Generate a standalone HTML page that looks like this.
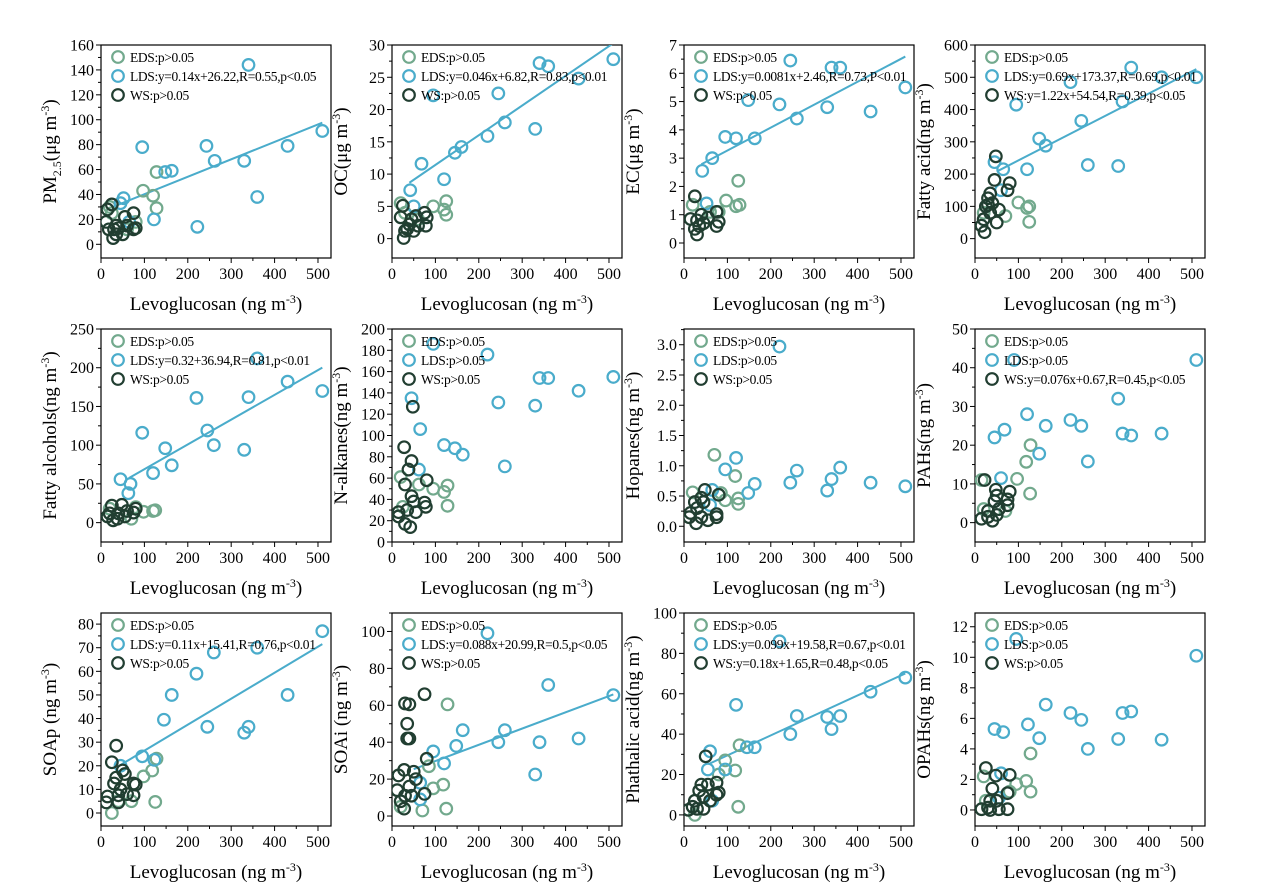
<!DOCTYPE html>
<html><head><meta charset="utf-8"><style>
html,body{margin:0;padding:0;background:#fff;}
svg{display:block;font-family:"Liberation Serif",serif;}
</style></head><body>
<svg id="s" width="1269" height="896" viewBox="0 0 1269 896" xmlns="http://www.w3.org/2000/svg"></svg>
<script>
const C={E:"#72a98d",L:"#4aaccb",W:"#213e31"};
const cols=[101,392,684,975], rows=[45,329,613], W=230,H=213, XMAX=530;
const P=[
{t:'PM<tspan font-size="12" dy="5">2.5</tspan><tspan dy="-5">(μg m</tspan><tspan font-size="12" dy="-7">-3</tspan><tspan dy="7">)</tspan>',y0:-11,y1:160,st:20,dec:0,
 lg:["EDS:p>0.05","LDS:y=0.14x+26.22,R=0.55,p<0.05","WS:p>0.05"],ln:[25,510,0.14,26.22],
 E:[[97,43],[128,58],[120,39],[128,29],[80,18],[25,25],[20,30],[60,12]],
 L:[[340,144],[95,78],[243,79],[262,67],[330,67],[430,79],[510,91],[360,38],[222,14],[122,20],[148,58],[163,59],[52,37],[45,33],[65,18]],
 W:[[25,32],[15,28],[12,18],[18,12],[28,5],[35,8],[35,15],[40,13],[50,8],[55,22],[75,25],[75,12],[80,13],[60,15],[30,12]]},
{t:'OC(μg m<tspan font-size="12" dy="-7">-3</tspan><tspan dy="7">)</tspan>',y0:-3,y1:30,st:5,dec:0,
 lg:["EDS:p>0.05","LDS:y=0.046x+6.82,R=0.83,p<0.01","WS:p>0.05"],ln:[40,510,0.046,6.82],
 E:[[20,5.5],[95,5],[120,4.5],[125,5.8],[125,3.7],[60,3],[30,4]],
 L:[[340,27.2],[360,26.7],[510,27.8],[430,24.8],[245,22.5],[260,18],[330,17],[220,15.9],[145,13.3],[160,14.2],[120,9.2],[95,22.2],[68,11.6],[42,7.5],[50,5]],
 W:[[20,3.3],[25,5.1],[30,1.2],[27,0.1],[40,2.2],[45,3],[55,3.5],[60,2],[75,4],[78,2],[35,1.5],[50,1.2],[80,3.3]]},
{t:'EC(μg m<tspan font-size="12" dy="-7">-3</tspan><tspan dy="7">)</tspan>',y0:-0.53,y1:7,st:1,dec:0,
 lg:["EDS:p>0.05","LDS:y=0.0081x+2.46,R=0.73,P<0.01","WS:p>0.05"],ln:[40,510,0.0081,2.46],
 E:[[125,2.2],[120,1.3],[97,1.5],[128,1.35],[80,1.1],[20,1.35],[60,1.1]],
 L:[[245,6.45],[340,6.2],[360,6.2],[510,5.5],[148,5.05],[220,4.9],[330,4.8],[430,4.65],[260,4.4],[95,3.75],[120,3.7],[163,3.7],[65,3],[42,2.55],[52,1.4]],
 W:[[25,1.65],[15,0.85],[25,0.5],[30,0.8],[30,0.3],[40,1.0],[35,0.6],[55,0.9],[75,0.6],[75,1.1],[80,0.75],[45,0.7]]},
{t:'Fatty acid(ng m<tspan font-size="12" dy="-7">-3</tspan><tspan dy="7">)</tspan>',y0:-60,y1:600,st:100,dec:0,
 lg:["EDS:p>0.05","LDS:y=0.69x+173.37,R=0.69,p<0.01","WS:y=1.22x+54.54,R=0.39,p<0.05"],ln:[50,510,0.69,173.37],
 E:[[100,112],[125,100],[125,52],[120,95],[70,70],[20,80]],
 L:[[360,530],[430,500],[510,500],[340,425],[220,485],[245,365],[95,415],[148,310],[163,288],[120,215],[65,215],[45,237],[260,228],[330,225],[60,150]],
 W:[[48,255],[45,182],[35,140],[30,125],[25,100],[20,60],[15,40],[22,20],[35,80],[40,110],[50,50],[55,90],[75,150],[80,172],[30,105]]},
{t:'Fatty alcohols(ng m<tspan font-size="12" dy="-7">-3</tspan><tspan dy="7">)</tspan>',y0:-25,y1:250,st:50,dec:0,
 lg:["EDS:p>0.05","LDS:y=0.32+36.94,R=0.81,p<0.01","WS:p>0.05"],ln:[65,510,0.32,36.94],
 E:[[98,14],[125,16],[120,15],[80,20],[70,5],[20,18]],
 L:[[360,212],[430,182],[510,170],[340,162],[220,161],[95,116],[245,119],[260,100],[330,94],[148,96],[163,74],[120,64],[45,56],[68,50],[63,38]],
 W:[[25,22],[48,23],[15,8],[28,3],[40,12],[55,8],[75,13],[80,18],[38,5],[60,15],[20,12]]},
{t:'N-alkanes(ng m<tspan font-size="12" dy="-7">-3</tspan><tspan dy="7">)</tspan>',y0:0,y1:200,st:20,dec:0,
 lg:["EDS:p>0.05","LDS:p>0.05","WS:p>0.05"],ln:null,
 E:[[20,61],[62,54],[95,50],[120,47],[128,53],[128,34],[25,33]],
 L:[[95,186],[220,176],[45,135],[245,131],[340,154],[360,154],[510,155],[430,142],[330,128],[65,106],[120,91],[145,88],[163,82],[260,71],[62,68]],
 W:[[48,127],[28,89],[45,76],[38,68],[80,58],[30,54],[45,43],[50,38],[75,37],[78,33],[15,28],[35,30],[55,28],[30,17],[42,14],[15,24]]},
{t:'Hopanes(ng m<tspan font-size="12" dy="-7">-3</tspan><tspan dy="7">)</tspan>',y0:-0.26,y1:3.26,st:0.5,dec:1,
 lg:["EDS:p>0.05","LDS:p>0.05","WS:p>0.05"],ln:null,
 E:[[70,1.18],[118,0.83],[95,0.43],[125,0.46],[125,0.37],[20,0.56],[85,0.55]],
 L:[[220,2.97],[120,1.13],[95,0.94],[260,0.92],[360,0.97],[340,0.78],[245,0.72],[430,0.72],[510,0.66],[330,0.59],[163,0.7],[148,0.55],[65,0.6],[60,0.35]],
 W:[[48,0.6],[80,0.52],[25,0.4],[45,0.4],[40,0.47],[15,0.22],[12,0.15],[30,0.3],[40,0.15],[55,0.1],[75,0.2],[28,0.05],[75,0.15]]},
{t:'PAHs(ng m<tspan font-size="12" dy="-7">-3</tspan><tspan dy="7">)</tspan>',y0:-5,y1:50,st:10,dec:0,
 lg:["EDS:p>0.05","LDS:p>0.05","WS:y=0.076x+0.67,R=0.45,p<0.05"],ln:null,
 E:[[128,20],[118,15.7],[97,11.3],[127,7.5],[70,3],[20,3.5],[15,11]],
 L:[[90,42],[510,42],[330,32],[120,28],[220,26.5],[245,25],[163,25],[68,24],[45,22],[340,23],[360,22.5],[430,23],[148,17.8],[260,15.8],[60,11.5]],
 W:[[22,11],[48,8.5],[80,8],[50,7],[75,6],[45,5.5],[75,4.5],[30,3],[55,3.5],[15,1],[40,0.5],[30,1.5],[50,2]]},
{t:'SOAp (ng m<tspan font-size="12" dy="-7">-3</tspan><tspan dy="7">)</tspan>',y0:-5.5,y1:84.7,st:10,dec:0,
 lg:["EDS:p>0.05","LDS:y=0.11x+15.41,R=0.76,p<0.01","WS:p>0.05"],ln:[45,510,0.11,15.41],
 E:[[128,23],[118,18],[98,15.5],[125,4.7],[70,5],[25,0],[40,5]],
 L:[[510,77],[260,68],[360,70],[220,59],[163,50],[430,50],[145,39.5],[245,36.5],[340,36.5],[330,34],[95,24],[123,22.5],[45,20]],
 W:[[35,28.5],[25,21.5],[50,18],[55,16.5],[35,15],[75,12.5],[80,12],[30,12.5],[45,10],[15,7],[12,4.5],[75,7.5],[40,7.5],[40,4.5],[60,8]]},
{t:'SOAi (ng m<tspan font-size="12" dy="-7">-3</tspan><tspan dy="7">)</tspan>',y0:-5.4,y1:110,st:20,dec:0,
 lg:["EDS:p>0.05","LDS:y=0.088x+20.99,R=0.5,p<0.05","WS:p>0.05"],ln:[50,510,0.088,20.99],
 E:[[128,60.5],[85,27],[118,17],[95,15],[70,3],[125,4],[20,5]],
 L:[[220,99],[360,71],[510,65.5],[163,46.5],[260,46.5],[430,42],[245,40],[340,40],[148,38],[95,35],[120,28.5],[330,22.5],[65,18],[65,9]],
 W:[[75,66],[30,61],[40,60.5],[35,50],[35,42],[40,42],[80,31],[28,25],[50,24],[15,22],[55,20],[40,16],[12,14],[75,12],[20,8],[45,11],[28,4],[30,11]]},
{t:'Phathalic acid(ng m<tspan font-size="12" dy="-7">-3</tspan><tspan dy="7">)</tspan>',y0:-5.5,y1:100,st:20,dec:0,
 lg:["EDS:p>0.05","LDS:y=0.099x+19.58,R=0.67,p<0.01","WS:y=0.18x+1.65,R=0.48,p<0.05"],ln:[60,510,0.099,19.58],
 E:[[128,34.5],[95,27],[118,22],[80,20],[125,4],[25,0]],
 L:[[220,86],[510,68],[430,61],[120,54.5],[260,49],[360,49],[330,48.5],[340,42.5],[245,40],[60,31.5],[145,33.5],[163,33.5],[55,22.5],[95,22.5],[65,7]],
 W:[[50,29],[40,15],[55,15],[75,16],[35,12],[80,11],[75,10],[45,9],[25,7],[60,7],[30,3],[45,3],[10,2.5],[20,4]]},
{t:'OPAHs(ng m<tspan font-size="12" dy="-7">-3</tspan><tspan dy="7">)</tspan>',y0:-1.05,y1:12.9,st:2,dec:0,
 lg:["EDS:p>0.05","LDS:p>0.05","WS:p>0.05"],ln:null,
 E:[[128,3.7],[118,1.9],[95,1.7],[128,1.2],[20,2.2],[25,0.6],[80,1.2]],
 L:[[95,11.2],[510,10.1],[163,6.9],[220,6.35],[340,6.35],[360,6.45],[245,5.9],[122,5.6],[45,5.3],[65,5.1],[148,4.7],[330,4.65],[430,4.6],[260,4.0],[60,2.4],[55,0.8]],
 W:[[25,2.75],[48,2.25],[80,2.3],[40,1.4],[75,1.1],[35,0.6],[50,0.6],[15,0.05],[30,0.15],[55,0.05],[75,0.05],[35,0]]}
];
let o="";
const esc=s=>s.replace(/</g,"&lt;").replace(/>/g,"&gt;");
P.forEach((p,i)=>{
 const x0=cols[i%4], y0=rows[Math.floor(i/4)];
 const X=v=>x0+v*W/XMAX, Y=v=>y0+H-(v-p.y0)*H/(p.y1-p.y0);
 o+=`<clipPath id="c${i}"><rect x="${x0}" y="${y0}" width="${W}" height="${H}"/></clipPath>`;
 for(let v=0;v<=500;v+=50){const xx=X(v);o+=`<line x1="${xx}" y1="${y0+H}" x2="${xx}" y2="${y0+H+(v%100?3:5)}" stroke="#000" stroke-width="1"/>`;
  if(v%100==0)o+=`<text x="${xx}" y="${y0+H+21}" font-size="16" text-anchor="middle">${v}</text>`;}
 const n=Math.round(p.y1/p.st);
 for(let k=0;k<=n*2;k++){const v=k*p.st/2; if(v>p.y1+1e-9)break; const yy=Y(v);
  o+=`<line x1="${x0}" y1="${yy}" x2="${x0-(k%2?3:5)}" y2="${yy}" stroke="#000" stroke-width="1"/>`;
  if(k%2==0)o+=`<text x="${x0-7}" y="${yy+5.5}" font-size="16" text-anchor="end">${v.toFixed(p.dec)}</text>`;}
 o+=`<rect x="${x0}" y="${y0}" width="${W}" height="${H}" fill="none" stroke="#000" stroke-width="1.2"/>`;
 o+=`<g clip-path="url(#c${i})">`;
 if(p.ln){const l=p.ln;o+=`<line x1="${X(l[0])}" y1="${Y(l[2]*l[0]+l[3])}" x2="${X(l[1])}" y2="${Y(l[2]*l[1]+l[3])}" stroke="${C.L}" stroke-width="2"/>`;}
 ["E","L","W"].forEach(k=>p[k].forEach(d=>{o+=`<circle cx="${X(d[0])}" cy="${Y(d[1])}" r="5.8" fill="none" stroke="${C[k]}" stroke-width="2.2"/>`;}));
 ["E","L","W"].forEach((k,j)=>{const yy=y0+12+j*19;
  o+=`<circle cx="${x0+17}" cy="${yy}" r="5.8" fill="none" stroke="${C[k]}" stroke-width="2.2"/>`;
  o+=`<text x="${x0+29}" y="${yy+5}" font-size="13.5" letter-spacing="-0.35">${esc(p.lg[j])}</text>`;});
 o+=`</g>`;
 o+=`<text x="${x0+W/2}" y="${y0+H+52}" font-size="19" text-anchor="middle">Levoglucosan (ng m<tspan font-size="12" dy="-7">-3</tspan><tspan dy="7">)</tspan></text>`;
 const tx=x0-45, ty=y0+H/2;
 o+=`<text transform="translate(${tx},${ty}) rotate(-90)" font-size="19" text-anchor="middle">${p.t}</text>`;
});
document.getElementById("s").innerHTML=o;
</script>
</body></html>
